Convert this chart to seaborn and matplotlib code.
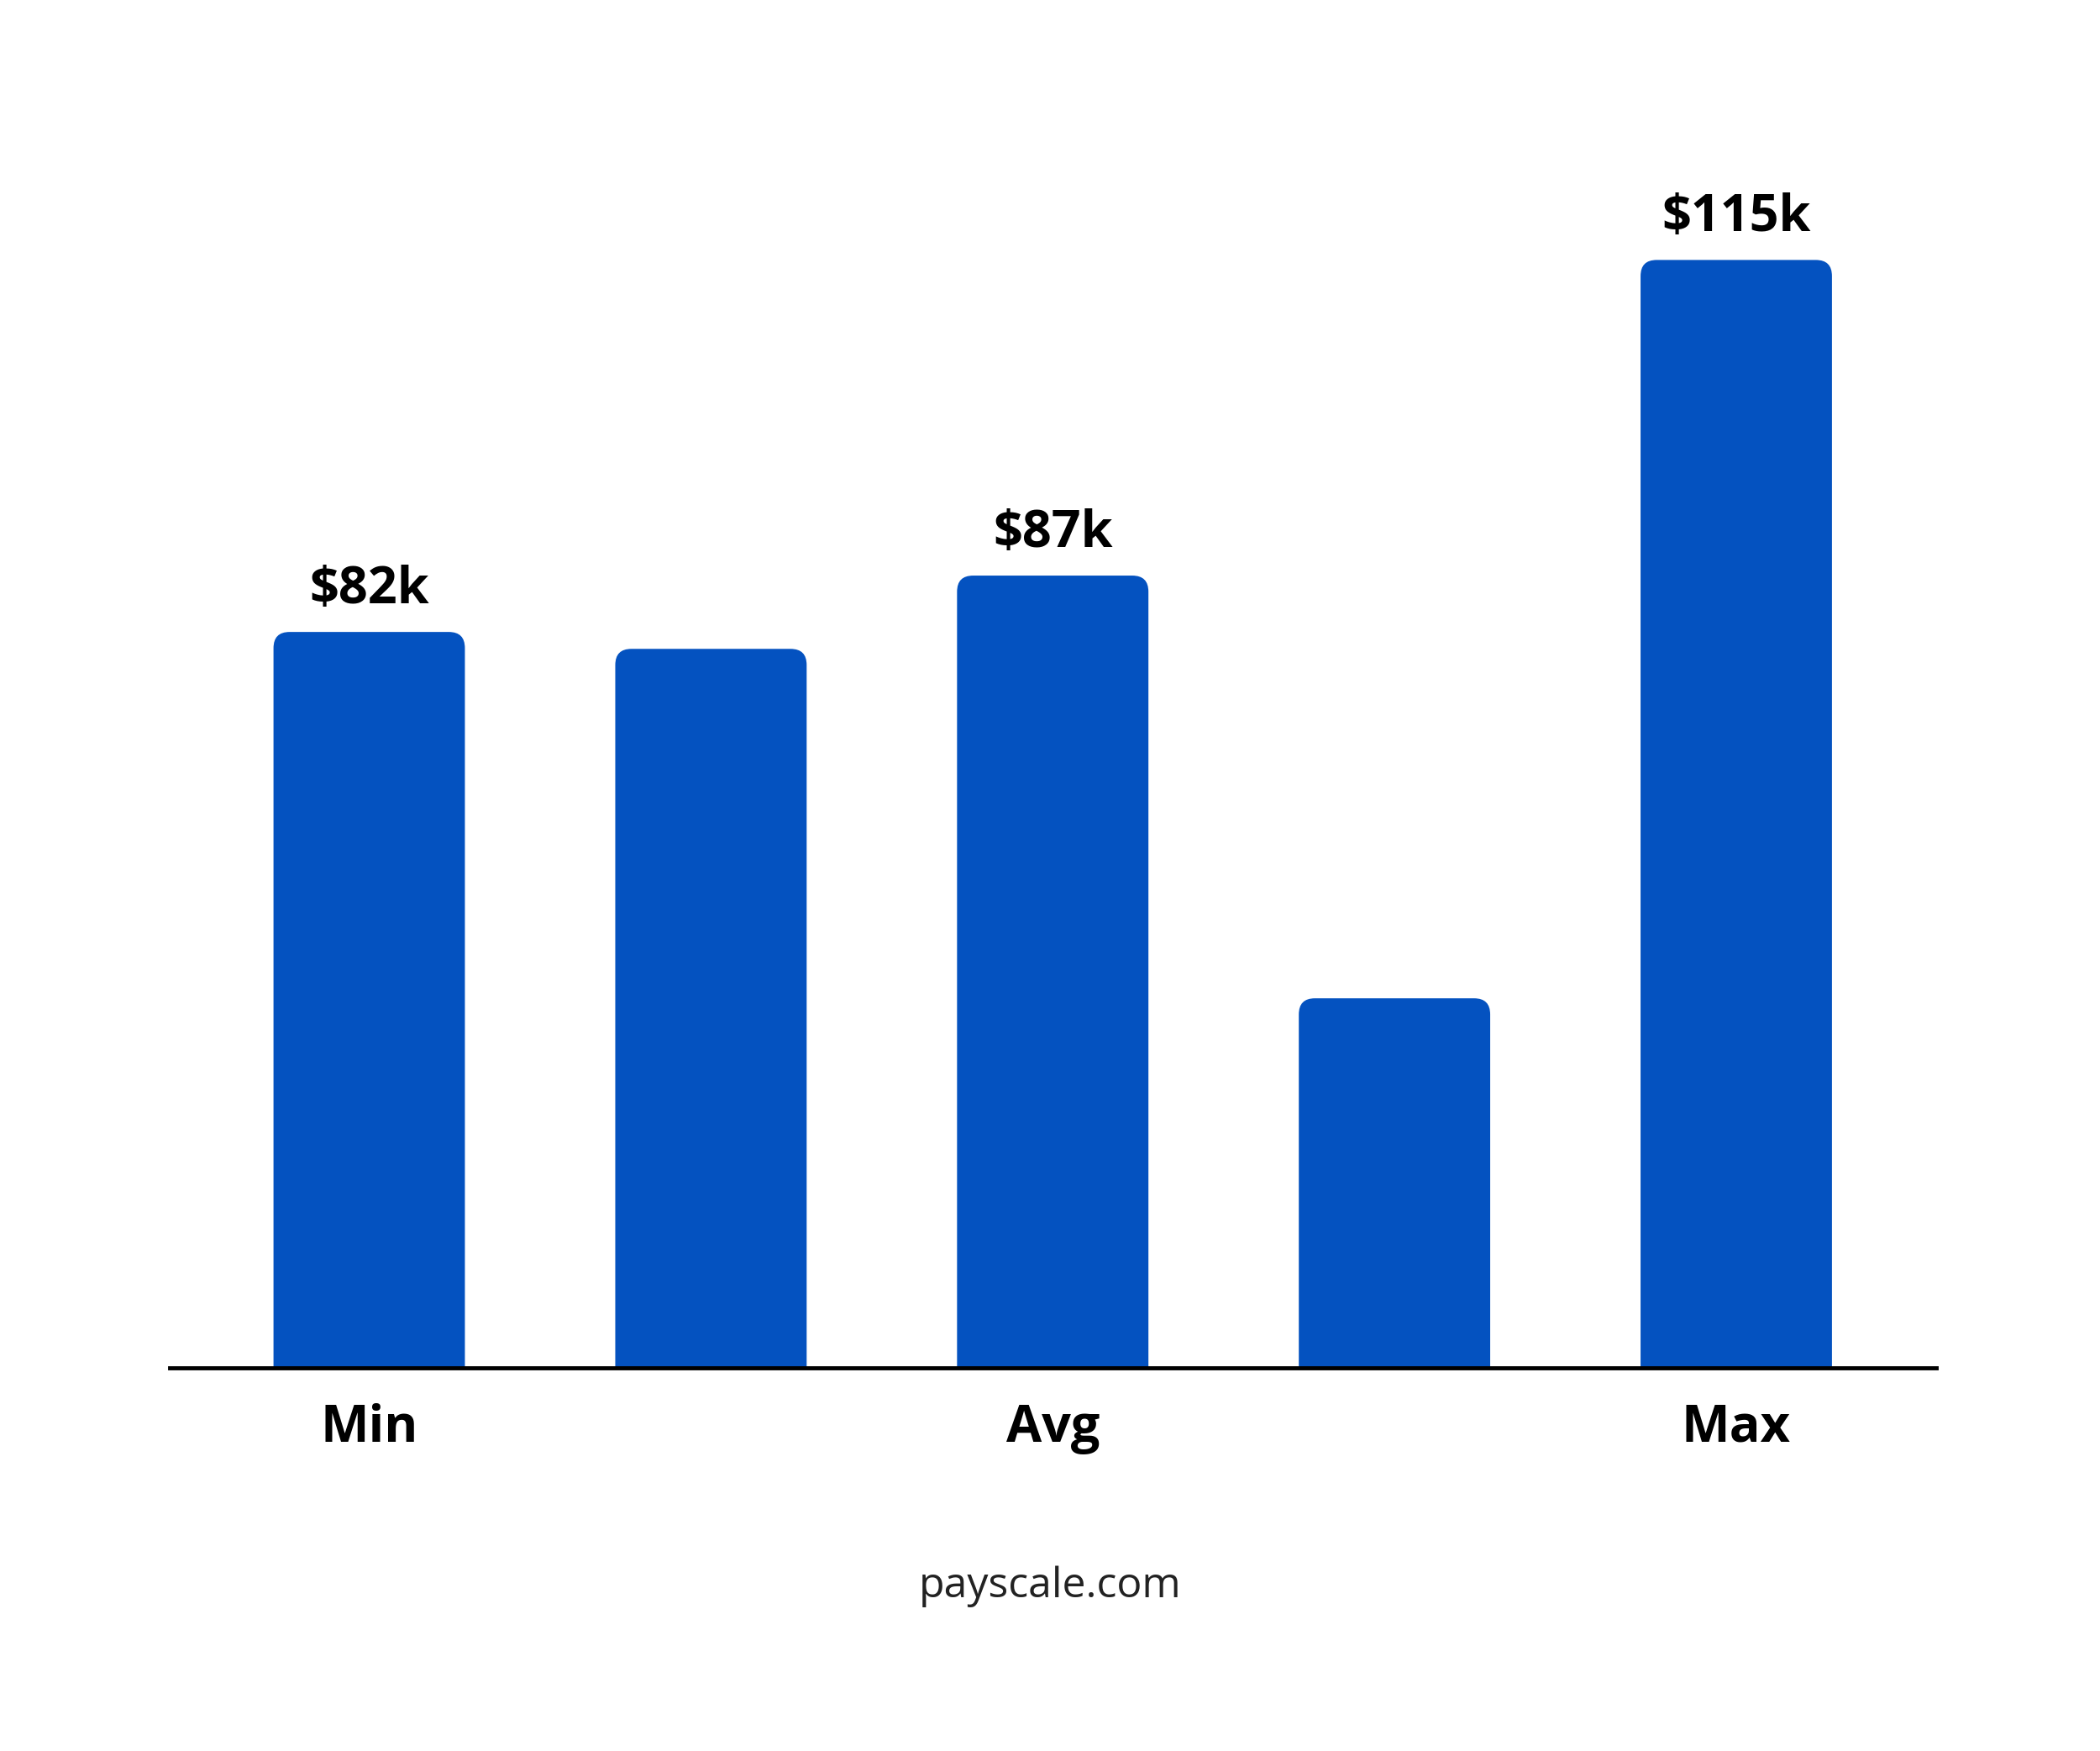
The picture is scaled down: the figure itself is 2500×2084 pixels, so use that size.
import matplotlib
matplotlib.use("Agg")
import matplotlib.pyplot as plt
import seaborn as sns
import pandas as pd
from matplotlib.patches import FancyBboxPatch

# ── Data ──────────────────────────────────────────────────────────────────────
positions   = ["p1", "p2", "p3", "p4", "p5"]
salaries_k  = [82, 80.5, 87, 49.5, 115]
tick_labels = ["Min", "", "Avg", "", "Max"]
value_shown = [True, False, True, False, True]

BLUE = "#0452C0"
Y_MIN, Y_MAX = 16.7, 126.1

sns.set_theme(style="white")
plt.rcParams["font.family"] = ["Open Sans", "DejaVu Sans"]

fig = plt.figure(figsize=(25, 20.84), dpi=100)
ax = fig.add_axes([0.0806, 0.2187, 0.922 - 0.0806, 0.923 - 0.2187])

df = pd.DataFrame({"pos": positions, "val": salaries_k})
sns.barplot(data=df, x="pos", y="val", color=BLUE, width=0.56,
            saturation=1, ax=ax)

ax.set_xlim(-0.585, 4.585)
ax.set_ylim(Y_MIN, Y_MAX)

# replace bars with round-topped ones (bottom corners hidden below the axis)
bbox = ax.get_window_extent()
x_per_px = (4.585 + 0.585) / bbox.width
y_per_px = (Y_MAX - Y_MIN) / bbox.height
aspect = y_per_px / x_per_px
for p in list(ax.patches):
    x, w, h = p.get_x(), p.get_width(), p.get_height()
    p.remove()
    y0 = Y_MIN - 5
    ax.add_patch(FancyBboxPatch((x, y0), w, h - y0, boxstyle="round,pad=0,rounding_size=0.047",
                                mutation_aspect=aspect, facecolor=BLUE,
                                edgecolor="none", clip_on=True))

for i, (v, show) in enumerate(zip(salaries_k, value_shown)):
    if show:
        ax.annotate(f"${v:.0f}k", (i, v), xytext=(0, 14), textcoords="offset points",
                    ha="center", va="bottom", fontsize=44, fontweight="bold", color="black")

ax.set_xticks(range(len(tick_labels)))
ax.set_xticklabels(tick_labels, fontsize=44, fontweight="bold", color="black")
ax.tick_params(axis="x", length=0, pad=30)
ax.set_yticks([])
ax.set_xlabel("")
ax.set_ylabel("")
for s in ["top", "right", "left"]:
    ax.spines[s].set_visible(False)
ax.spines["bottom"].set_color("black")
ax.spines["bottom"].set_linewidth(3.5)
ax.spines["bottom"].set_zorder(5)

fig.text(0.5, 0.094, "payscale.com", ha="center", va="center",
         fontsize=36, color="#222222")

fig.savefig("out.png", dpi=100, facecolor="white")
